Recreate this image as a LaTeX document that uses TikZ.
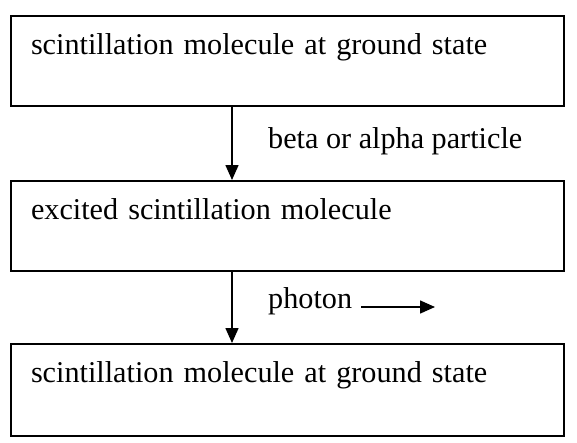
\documentclass[tikz,border=0pt]{standalone}
\usepackage{fontspec}
\setmainfont{Liberation Serif}
\usetikzlibrary{arrows.meta, positioning, calc}

\begin{document}
\begin{tikzpicture}[x=1pt, y=-1pt,
    statebox/.style={draw, line width=2pt, anchor=north west, inner xsep=20pt, inner ysep=0pt,
      text width=513pt, align=left, text height=38pt, text depth=52pt, font=\fontsize{30.2}{36}\selectfont},
    lbl/.style={anchor=base west, inner sep=0pt, font=\fontsize{30.2}{36}\selectfont},
    flow/.style={line width=1.5pt, -{Triangle[length=15pt, width=13pt]}}]
      \useasboundingbox (0, 0) rectangle (577, 442);

      \node[statebox] (ground) at (10, 15) {scintillation molecule at ground state};
      \node[statebox] (excited) at (10, 180) {excited scintillation molecule};
      \node[statebox, text depth=54pt] (relaxed) at (10, 343) {scintillation molecule at ground state};

      \draw[flow] (232, 0 |- ground.south) -- (232, 0 |- excited.north);
      \draw[flow] (232, 0 |- excited.south) -- (232, 0 |- relaxed.north);

      \node[lbl] (particle) at (268, 148) {beta or alpha particle};
      \node[lbl] (photon) at (268, 308) {photon};

      \coordinate (ray start) at (361, 307);
      \coordinate (ray end) at (435, 307);
      \draw[flow] (ray start) -- (ray end);

    \end{tikzpicture}
\end{document}
